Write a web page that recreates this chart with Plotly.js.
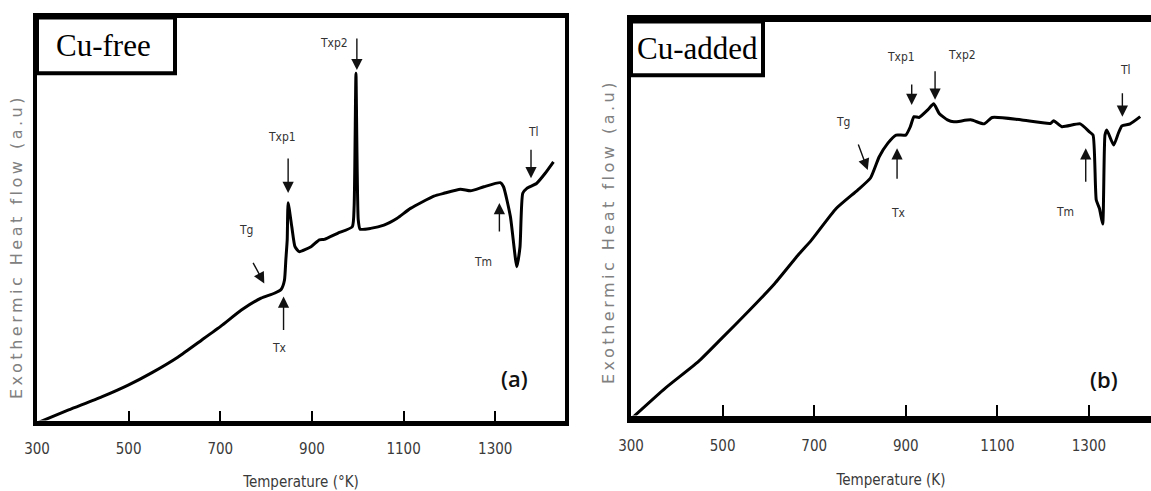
<!DOCTYPE html>
<html>
<head>
<meta charset="utf-8">
<script src="https://cdn.plot.ly/plotly-3.0.1.min.js"></script>
<style>
  html, body { margin: 0; padding: 0; background: #fff; }
  #chart { width: 1151px; height: 491px; }
</style>
</head>
<body>
<div id="chart"></div>
<script>
// ---------------- data ----------------
// Panel (a): Cu-free
const tempA = [300, 369, 441, 499, 550, 608, 659, 702, 746, 789,
               818, 833, 840, 843, 846, 848, 856, 863, 872, 898,
               916, 927, 956, 988, 992, 996, 1001, 1005, 1028, 1057,
               1086, 1115, 1166, 1188, 1224, 1246, 1275, 1311, 1318, 1333,
               1347, 1354, 1360, 1369, 1390, 1409, 1427];
const flowA = [0.00, 0.32, 0.64, 0.93, 1.23, 1.62, 2.03, 2.38, 2.77, 3.06,
               3.18, 3.28, 3.50, 4.00, 4.49, 5.40, 4.81, 4.32, 4.20, 4.32,
               4.49, 4.50, 4.65, 4.81, 5.30, 8.57, 4.98, 4.75, 4.77, 4.85,
               5.02, 5.26, 5.56, 5.63, 5.73, 5.69, 5.79, 5.89, 5.79, 5.06,
               3.83, 4.32, 5.63, 5.75, 5.87, 6.12, 6.40];

// Panel (b): Cu-added
const tempB = [300, 375, 447, 498, 556, 614, 665, 694, 748, 795,
               823, 842, 861, 879, 900, 910, 918, 929, 948, 961,
               973, 991, 1005, 1042, 1071, 1089, 1151, 1216, 1223, 1241,
               1281, 1301, 1309, 1316, 1323, 1330, 1335, 1339, 1354, 1364,
               1372, 1390, 1412];
const flowB = [0.00, 0.77, 1.43, 2.01, 2.68, 3.38, 4.09, 4.46, 5.25, 5.71,
               6.01, 6.54, 6.88, 7.08, 7.08, 7.29, 7.54, 7.52, 7.71, 7.86,
               7.62, 7.46, 7.41, 7.46, 7.36, 7.52, 7.46, 7.37, 7.44, 7.29,
               7.36, 7.16, 7.08, 5.46, 5.25, 4.86, 7.08, 7.21, 6.83, 7.12,
               7.31, 7.36, 7.54];

const tickTemps = [300, 500, 700, 900, 1100, 1300];
const tickLabels = ['300', '500', '700', '900', '1100', '1300'];

const panelTitles = ['Cu-free', 'Cu-added'];
const panelTags = ['(a)', '(b)'];
const xTitles = ['Temperature (°K)', 'Temperature (K)'];
const yTitle = 'Exothermic Heat flow (a.u)';

// event markers: [label, temperature at arrow head, flow at arrow head]
const eventsA = [['Tg', 796, 3.42], ['Tx', 838, 3.10], ['Txp1', 848, 5.64],
                 ['Txp2', 998, 8.65], ['Tm', 1309, 5.39], ['Tl', 1378, 6.00]];
const eventsB = [['Tg', 817, 6.21], ['Tx', 881, 6.75], ['Txp1', 913, 7.83],
                 ['Txp2', 964, 7.96], ['Tm', 1293, 6.75], ['Tl', 1373, 7.54]];

// ---------------- layout geometry ----------------
const W = 1151, H = 491;
// frame line centres (px) and calibration of each panel
const geo = [
  {left: 35, right: 567, top: 15, bottom: 423, lwx: 5, lwy: 4, k0px: 35, kpx: 0.46, y0px: 423, ypx: 40.8, mirrorY: true},
  {left: 629, right: 1151, top: 18, bottom: 419, lwx: 7, lwy: 4, k0px: 629, kpx: 0.4597, y0px: 419, ypx: 40.1, mirrorY: false}
];
// label placement relative to the arrow head: [dxText, dyText, axArrow, ayArrow] (px)
const labelOffA = {Tg: [-18, -53, -12, -22], Tx: [-4, 51, 0, 35], Txp1: [-6, -56, 0, -36],
                   Txp2: [-23, -27, 0, -33], Tm: [-16, 59, 0, 30], Tl: [2, -46, 0, -30]};
const labelOffB = {Tg: [-25, -48, -10, -27], Tx: [1, 65, 0, 32], Txp1: [-11, -48, 0, -22],
                   Txp2: [27, -45, 0, -30], Tm: [-21, 64, 0, 35], Tl: [3, -47, 0, -25]};

const k = (g, px) => 300 + (px - g.k0px) / g.kpx;
const f = (g, py) => (g.y0px - py) / g.ypx;

function axisPair(i) {
  const g = geo[i];
  const pl = g.left + g.lwy / 2, pr = g.mirrorY ? g.right - g.lwy / 2 : g.right;
  const pt = g.top + g.lwx / 2, pb = g.bottom - g.lwx / 2;
  const xa = {
    domain: [pl / W, pr / W],
    range: [300, k(g, pr)],
    showline: true, linewidth: g.lwx, linecolor: '#000', mirror: true,
    showgrid: false, zeroline: false,
    ticks: 'inside', ticklen: g.lwx / 2 + 7, tickwidth: 2, tickcolor: '#000',
    tickmode: 'array', tickvals: tickTemps, ticktext: tickLabels,
    tickfont: {family: 'DejaVu Sans Condensed, Liberation Sans Narrow, sans-serif', size: 15, color: '#3a3a3a'},
    ticklabelstandoff: 10,
    title: {text: xTitles[i], font: {family: 'DejaVu Sans Condensed, Liberation Sans Narrow, sans-serif', size: 15, color: '#3a3a3a'}, standoff: 23},
    automargin: false, fixedrange: true
  };
  const ya = {
    domain: [(H - pb) / H, (H - pt) / H],
    range: [f(g, pb), f(g, pt)],
    showline: true, linewidth: g.lwy, linecolor: '#000', mirror: g.mirrorY,
    showgrid: false, zeroline: false, ticks: '', showticklabels: false,
    automargin: false, fixedrange: true
  };
  return [xa, ya];
}

const [xa1, ya1] = axisPair(0);
const [xa2, ya2] = axisPair(1);
xa2.anchor = 'y2';
ya2.anchor = 'x2';

const traces = [
  {x: tempA, y: flowA, xaxis: 'x', yaxis: 'y', mode: 'lines', line: {color: '#000', width: 3, shape: 'spline', smoothing: 0.5}, hoverinfo: 'skip'},
  {x: tempB, y: flowB, xaxis: 'x2', yaxis: 'y2', mode: 'lines', line: {color: '#000', width: 3, shape: 'spline', smoothing: 0.5}, hoverinfo: 'skip'}
];

const labelFont = {family: 'DejaVu Sans Condensed, Liberation Sans Narrow, sans-serif', size: 12, color: '#333'};
const annotations = [];
const shapes = [];

function addEvents(events, offs, i) {
  const g = geo[i];
  const xr = i === 0 ? 'x' : 'x2', yr = i === 0 ? 'y' : 'y2';
  events.forEach(([name, t, v]) => {
    const o = offs[name];
    annotations.push({xref: xr, yref: yr, x: t, y: v, text: '', showarrow: true,
      arrowhead: 2, arrowsize: 1.6, arrowwidth: 1.4, arrowcolor: '#111',
      ax: o[2], ay: o[3], standoff: 0});
    annotations.push({xref: xr, yref: yr, x: t + o[0] / g.kpx, y: v - o[1] / g.ypx,
      text: name, showarrow: false, font: labelFont, xanchor: 'center', yanchor: 'middle'});
  });
}
addEvents(eventsA, labelOffA, 0);
addEvents(eventsB, labelOffB, 1);

// panel title boxes and tags
const boxes = [
  {xr: 'x domain', yr: 'y domain', x1: (175 - 37) / 528, y0: (421 - 73) / 404, tx: (103 - 37) / 528, ty: (421 - 45) / 404},
  {xr: 'x2 domain', yr: 'y2 domain', x1: (763 - 631) / 520, y0: (416 - 75) / 395, tx: (697 - 631) / 520, ty: (416 - 48) / 395}
];
boxes.forEach((b, i) => {
  shapes.push({type: 'rect', xref: b.xr, yref: b.yr, x0: 0, x1: b.x1, y0: b.y0, y1: 1,
    line: {color: '#000', width: 4}, fillcolor: '#fff', layer: 'above'});
  annotations.push({xref: b.xr, yref: b.yr, x: b.tx, y: b.ty, text: panelTitles[i], showarrow: false,
    font: {family: 'Liberation Serif, Times New Roman, serif', size: 31, color: '#000'},
    xanchor: 'center', yanchor: 'middle'});
});

annotations.push({xref: 'x', yref: 'y', x: 1343, y: 1.10, text: panelTags[0], showarrow: false,
  font: {family: 'Open Sans, sans-serif', size: 22, color: '#111', weight: 600}, xanchor: 'center', yanchor: 'middle'});
annotations.push({xref: 'x2', yref: 'y2', x: 1332, y: 1.01, text: panelTags[1], showarrow: false,
  font: {family: 'Open Sans, sans-serif', size: 22, color: '#111', weight: 600}, xanchor: 'center', yanchor: 'middle'});

// y titles (rotated text, positioned as in the reference)
[[16, 247], [609, 232]].forEach(([px, py]) => {
  annotations.push({xref: 'paper', yref: 'paper', x: px / W, y: (H - py) / H,
    text: '<span style="letter-spacing:3.5px">' + yTitle + '</span>', textangle: -90, showarrow: false,
    font: {family: 'DejaVu Sans, sans-serif', size: 16, color: '#808080'}, xanchor: 'center', yanchor: 'middle'});
});

const layout = {
  width: W, height: H,
  margin: {l: 0, r: 0, t: 0, b: 0},
  paper_bgcolor: '#fff', plot_bgcolor: '#fff',
  showlegend: false,
  xaxis: xa1, yaxis: ya1, xaxis2: xa2, yaxis2: ya2,
  annotations: annotations, shapes: shapes
};

Plotly.newPlot('chart', traces, layout, {staticPlot: true, displayModeBar: false});
</script>
</body>
</html>
